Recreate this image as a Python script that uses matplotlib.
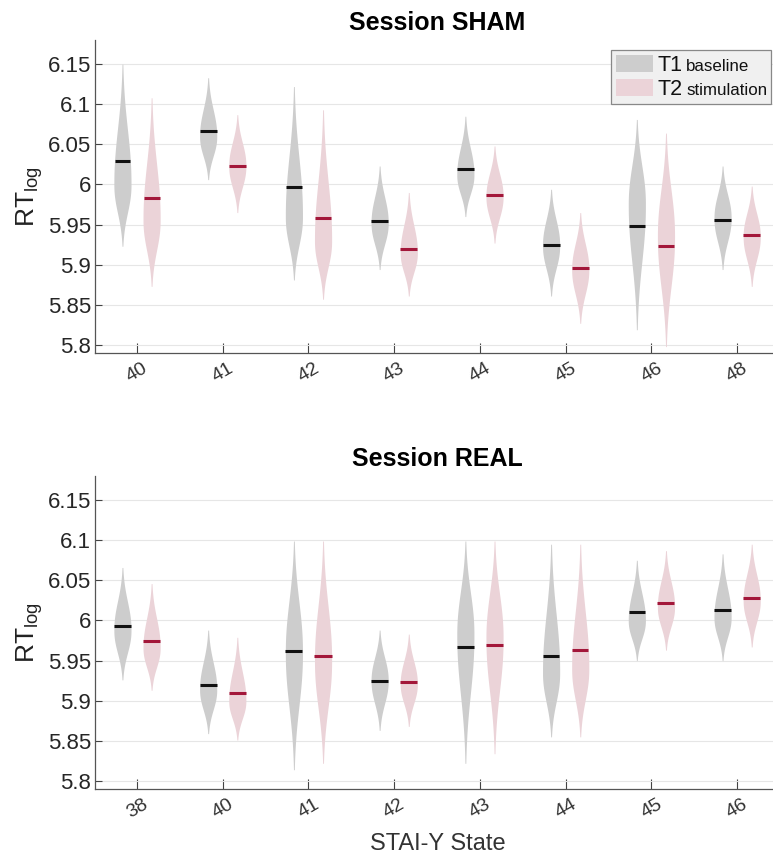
import numpy as np
import matplotlib
matplotlib.use("Agg")
import matplotlib.pyplot as plt
from matplotlib.patches import Rectangle

plt.rcParams['font.family'] = ['Liberation Sans', 'DejaVu Sans']

# ---- data ----------------------------------------------------------------
# each violin: lower tip, upper tip, widest point, median
sham_labels = ['40', '41', '42', '43', '44', '45', '46', '48']
sham_t1_low = [5.923, 6.006, 5.881, 5.894, 5.960, 5.861, 5.819, 5.894]
sham_t1_high = [6.150, 6.133, 6.122, 6.023, 6.085, 5.994, 6.081, 6.023]
sham_t1_mode = [6.000, 6.060, 5.960, 5.952, 6.012, 5.924, 5.975, 5.958]
sham_t1_median = [6.029, 6.066, 5.997, 5.955, 6.019, 5.925, 5.948, 5.956]
sham_t2_low = [5.873, 5.965, 5.857, 5.861, 5.927, 5.827, 5.798, 5.873]
sham_t2_high = [6.108, 6.087, 6.093, 5.990, 6.048, 5.965, 6.064, 5.998]
sham_t2_mode = [5.956, 6.023, 5.930, 5.915, 5.985, 5.894, 5.935, 5.935]
sham_t2_median = [5.983, 6.023, 5.958, 5.920, 5.987, 5.896, 5.923, 5.937]

real_labels = ['38', '40', '41', '42', '43', '44', '45', '46']
real_t1_low = [5.926, 5.859, 5.814, 5.863, 5.822, 5.855, 5.950, 5.950]
real_t1_high = [6.066, 5.988, 6.099, 5.988, 6.099, 6.095, 6.075, 6.083]
real_t1_mode = [5.988, 5.914, 5.960, 5.925, 5.982, 5.935, 6.000, 6.004]
real_t1_median = [5.993, 5.920, 5.962, 5.925, 5.967, 5.956, 6.010, 6.013]
real_t2_low = [5.913, 5.851, 5.822, 5.868, 5.834, 5.855, 5.963, 5.967]
real_t2_high = [6.046, 5.979, 6.099, 5.983, 6.099, 6.095, 6.087, 6.095]
real_t2_mode = [5.966, 5.900, 5.950, 5.921, 5.978, 5.940, 6.017, 6.025]
real_t2_median = [5.974, 5.910, 5.956, 5.923, 5.969, 5.963, 6.022, 6.028]

legend_big = ['T1', 'T2']
legend_small = ['baseline', 'stimulation']

t1_fill = '#cdcdcd'
t2_fill = '#ebd3d8'
t1_med = '#111111'
t2_med = '#a3173a'
offset = 0.17
half_w = 0.1

W, H = 773, 855


def violin(ax, x, low, high, mode, med, fill, medcol):
    y = np.linspace(low, high, 200)
    side = np.where(y < mode, mode - low, high - mode)
    d = np.abs(y - mode) / side
    hw = half_w * np.exp(-3.0 * d ** 2.2)
    ax.fill_betweenx(y, x - hw, x + hw, color=fill, lw=0, zorder=2)
    mw = np.interp(med, y, hw)
    ax.plot([x - mw, x + mw], [med, med], color=medcol, lw=2.2,
            solid_capstyle='butt', zorder=3)


def panel(ax, title, labels, t1, t2):
    xs = np.arange(1, len(labels) + 1)
    for i, x in enumerate(xs):
        violin(ax, x - offset, t1[0][i], t1[1][i], t1[2][i], t1[3][i],
               t1_fill, t1_med)
        violin(ax, x + offset, t2[0][i], t2[1][i], t2[2][i], t2[3][i],
               t2_fill, t2_med)
    ax.set_xlim(0.51, 8.5)
    ax.set_ylim(5.79, 6.18)
    ax.set_yticks([5.8, 5.85, 5.9, 5.95, 6.0, 6.05, 6.1, 6.15])
    ax.set_yticklabels(['5.8', '5.85', '5.9', '5.95', '6', '6.05', '6.1', '6.15'])
    ax.set_xticks(xs)
    ax.set_xticklabels(labels, rotation=30, fontsize=14, color='#333333')
    ax.tick_params(axis='y', labelsize=16, labelcolor='#262626', pad=3)
    ax.tick_params(direction='in', length=5, color='#444444', width=0.8)
    ax.tick_params(axis='x', length=7, pad=5)
    for s in ['top', 'right']:
        ax.spines[s].set_visible(False)
    for s in ['left', 'bottom']:
        ax.spines[s].set_color('#555555')
        ax.spines[s].set_linewidth(0.9)
    ax.grid(axis='y', color='#e6e6e6', lw=0.8, zorder=0)
    ax.set_axisbelow(True)
    ax.set_ylabel(r'RT$_{\mathregular{log}}$', fontsize=19, color='#222222',
                  labelpad=2)
    ax.set_title(title, fontsize=18, fontweight='bold', pad=7)


fig = plt.figure(figsize=(W / 100, H / 100), dpi=100)
ax1 = fig.add_axes([95 / W, 1 - 353 / H, 685 / W, 313 / H])
ax2 = fig.add_axes([95 / W, 1 - 789 / H, 685 / W, 313 / H])

panel(ax1, 'Session SHAM', sham_labels,
      (sham_t1_low, sham_t1_high, sham_t1_mode, sham_t1_median),
      (sham_t2_low, sham_t2_high, sham_t2_mode, sham_t2_median))
panel(ax2, 'Session REAL', real_labels,
      (real_t1_low, real_t1_high, real_t1_mode, real_t1_median),
      (real_t2_low, real_t2_high, real_t2_mode, real_t2_median))
ax2.set_xlabel('STAI-Y State', fontsize=17, color='#333333', labelpad=8)


# legend drawn by hand (two font sizes on one baseline)
def px(x, y):
    return x / W, 1 - y / H


fig.patches.append(Rectangle(px(611, 104), 160 / W, 54 / H,
                             transform=fig.transFigure, fc='#f0f0f0',
                             ec='#888888', lw=0.9, zorder=5))
for i, col in enumerate([t1_fill, t2_fill]):
    y0 = 55 + 24 * i
    fig.patches.append(Rectangle(px(616, y0 + 17), 37 / W, 17 / H,
                                 transform=fig.transFigure, fc=col,
                                 ec='none', zorder=6))
    fig.text(*px(657, y0 + 16), legend_big[i], fontsize=15.5, color='#111111',
             va='baseline', ha='left', zorder=7)
    fig.text(*px(686, y0 + 16), legend_small[i], fontsize=12.2,
             color='#111111', va='baseline', ha='left', zorder=7)

fig.savefig('out.png', dpi=100)
